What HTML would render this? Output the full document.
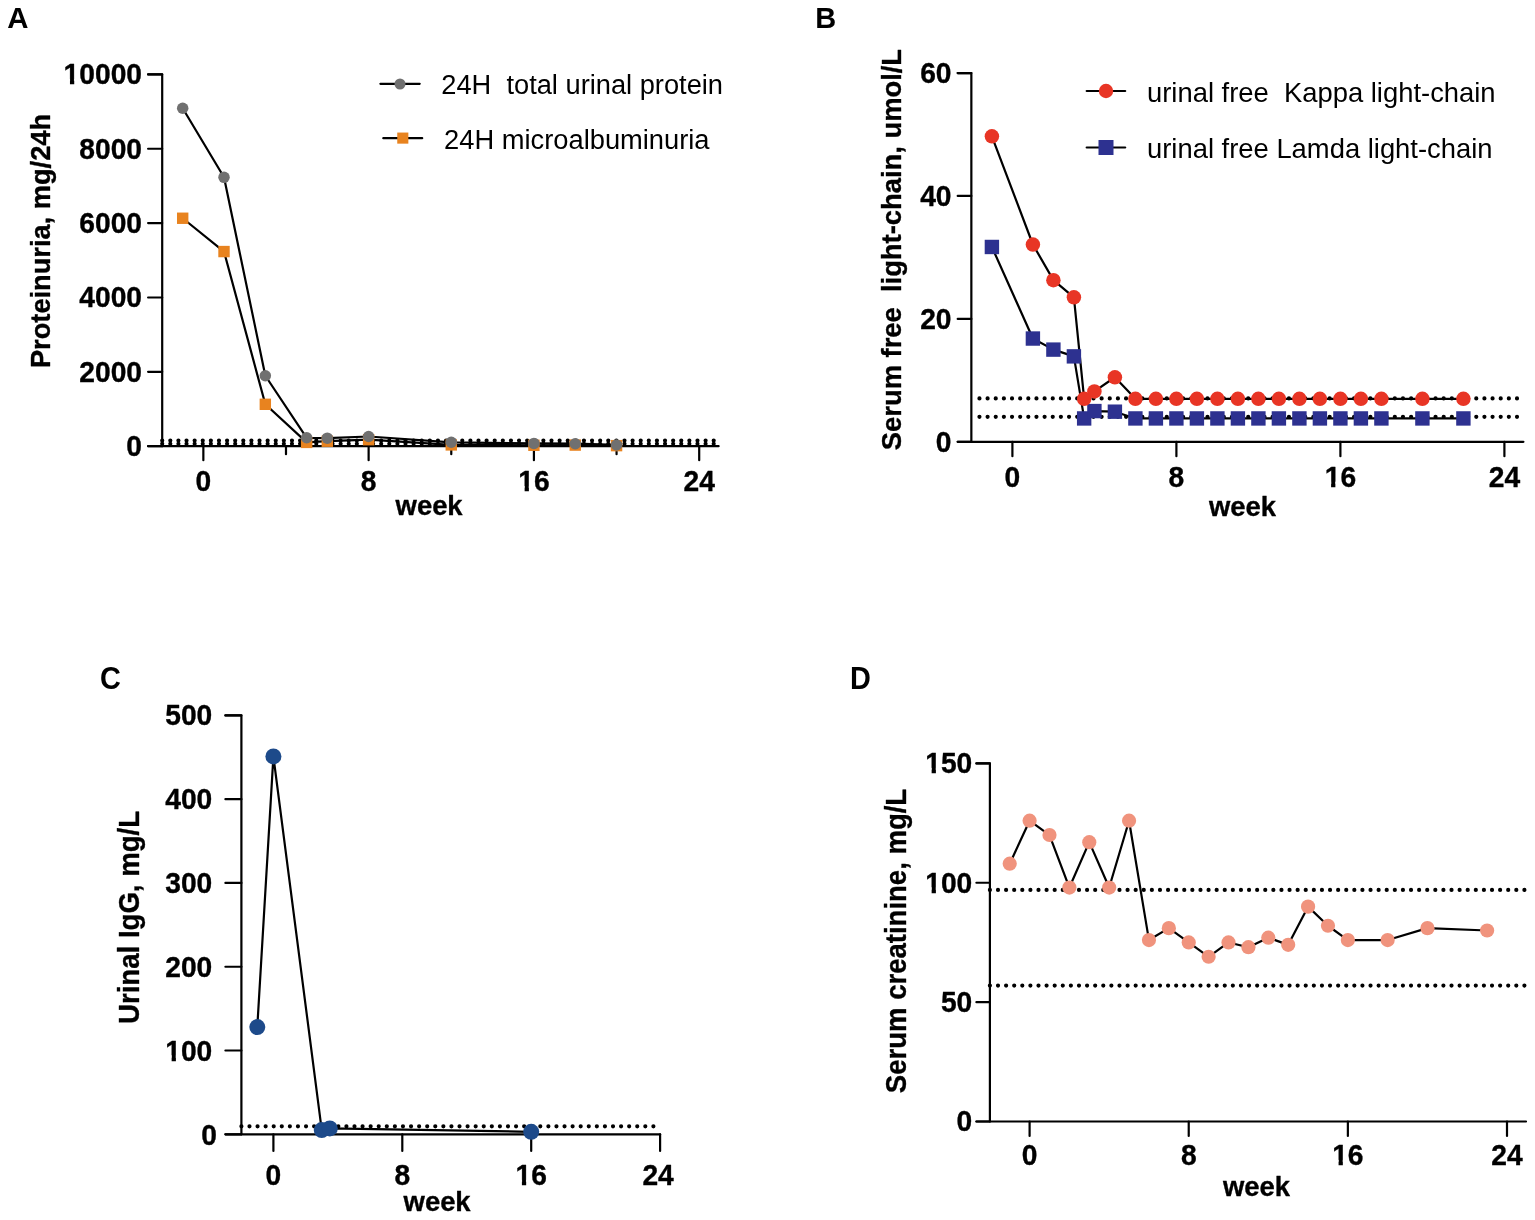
<!DOCTYPE html>
<html><head><meta charset="utf-8"><title>Figure</title>
<style>
html,body{margin:0;padding:0;background:#fff;}
body{width:1535px;height:1220px;overflow:hidden;}
svg{display:block;font-family:"Liberation Sans", Arial, Helvetica, sans-serif;}
text{fill:#000;}
</style></head><body>
<svg width="1535" height="1220" viewBox="0 0 1535 1220">
<rect width="1535" height="1220" fill="#fff"/>
<text transform="translate(7.30,28.30) scale(1,1.01)" font-size="29.4" font-weight="bold" text-anchor="start">A</text>
<path d="M148.10,74.40 L162.20,74.40 L162.20,446.20" fill="none" stroke="#000" stroke-width="2.2" stroke-linecap="round" stroke-linejoin="round"/>
<line x1="148.10" y1="446.20" x2="718.60" y2="446.20" stroke="#000" stroke-width="2.2" stroke-linecap="round"/>
<line x1="148.10" y1="446.20" x2="162.20" y2="446.20" stroke="#000" stroke-width="2.2" stroke-linecap="round"/>
<line x1="148.10" y1="371.84" x2="162.20" y2="371.84" stroke="#000" stroke-width="2.2" stroke-linecap="round"/>
<line x1="148.10" y1="297.48" x2="162.20" y2="297.48" stroke="#000" stroke-width="2.2" stroke-linecap="round"/>
<line x1="148.10" y1="223.12" x2="162.20" y2="223.12" stroke="#000" stroke-width="2.2" stroke-linecap="round"/>
<line x1="148.10" y1="148.76" x2="162.20" y2="148.76" stroke="#000" stroke-width="2.2" stroke-linecap="round"/>
<line x1="148.10" y1="74.40" x2="162.20" y2="74.40" stroke="#000" stroke-width="2.2" stroke-linecap="round"/>
<line x1="203.35" y1="446.20" x2="203.35" y2="460.20" stroke="#000" stroke-width="2.2" stroke-linecap="round"/>
<line x1="368.63" y1="446.20" x2="368.63" y2="460.20" stroke="#000" stroke-width="2.2" stroke-linecap="round"/>
<line x1="533.92" y1="446.20" x2="533.92" y2="460.20" stroke="#000" stroke-width="2.2" stroke-linecap="round"/>
<line x1="699.20" y1="446.20" x2="699.20" y2="460.20" stroke="#000" stroke-width="2.2" stroke-linecap="round"/>
<line x1="285.99" y1="446.20" x2="285.99" y2="454.20" stroke="#000" stroke-width="2.2" stroke-linecap="round"/>
<line x1="451.27" y1="446.20" x2="451.27" y2="454.20" stroke="#000" stroke-width="2.2" stroke-linecap="round"/>
<line x1="616.56" y1="446.20" x2="616.56" y2="454.20" stroke="#000" stroke-width="2.2" stroke-linecap="round"/>
<g transform="translate(142.00,455.60) scale(1,1.05)"><text font-size="28.2" font-weight="bold" text-anchor="end" stroke="#000" stroke-width="0.35" stroke-linejoin="round">0</text></g>
<g transform="translate(142.00,381.84) scale(1,1.05)"><text font-size="28.2" font-weight="bold" text-anchor="end" stroke="#000" stroke-width="0.35" stroke-linejoin="round">2000</text></g>
<g transform="translate(142.00,307.48) scale(1,1.05)"><text font-size="28.2" font-weight="bold" text-anchor="end" stroke="#000" stroke-width="0.35" stroke-linejoin="round">4000</text></g>
<g transform="translate(142.00,233.12) scale(1,1.05)"><text font-size="28.2" font-weight="bold" text-anchor="end" stroke="#000" stroke-width="0.35" stroke-linejoin="round">6000</text></g>
<g transform="translate(142.00,158.76) scale(1,1.05)"><text font-size="28.2" font-weight="bold" text-anchor="end" stroke="#000" stroke-width="0.35" stroke-linejoin="round">8000</text></g>
<g transform="translate(142.00,84.40) scale(1,1.05)"><text font-size="28.2" font-weight="bold" text-anchor="end" stroke="#000" stroke-width="0.35" stroke-linejoin="round">10000</text><rect x="-77.78" y="-5.08" width="5.74" height="7.28" fill="#fff"/><rect x="-67.77" y="-5.08" width="5.37" height="7.28" fill="#fff"/></g>
<g transform="translate(203.35,491.40) scale(1,1.05)"><text font-size="28.2" font-weight="bold" text-anchor="middle" stroke="#000" stroke-width="0.35" stroke-linejoin="round">0</text></g>
<g transform="translate(368.63,491.40) scale(1,1.05)"><text font-size="28.2" font-weight="bold" text-anchor="middle" stroke="#000" stroke-width="0.35" stroke-linejoin="round">8</text></g>
<g transform="translate(533.92,491.40) scale(1,1.05)"><text font-size="28.2" font-weight="bold" text-anchor="middle" stroke="#000" stroke-width="0.35" stroke-linejoin="round">16</text><rect x="-15.04" y="-5.08" width="5.74" height="7.28" fill="#fff"/><rect x="-5.03" y="-5.08" width="5.37" height="7.28" fill="#fff"/></g>
<g transform="translate(699.20,491.40) scale(1,1.05)"><text font-size="28.2" font-weight="bold" text-anchor="middle" stroke="#000" stroke-width="0.35" stroke-linejoin="round">24</text></g>
<text transform="translate(395.60,515.00) scale(1,1.04)" font-size="27.4" font-weight="bold" text-anchor="start" stroke="#000" stroke-width="0.35" stroke-linejoin="round">week</text>
<text transform="translate(49.60,241.00) rotate(-90) scale(1,1.04)" font-size="27.23" font-weight="bold" text-anchor="middle" stroke="#000" stroke-width="0.35" stroke-linejoin="round">Proteinuria, mg/24h</text>
<line x1="162.20" y1="440.60" x2="713.80" y2="440.60" stroke="#000" stroke-width="4.2" stroke-linecap="round" stroke-dasharray="0 8.1103"/>
<line x1="162.20" y1="443.80" x2="713.80" y2="443.80" stroke="#000" stroke-width="4.2" stroke-linecap="round" stroke-dasharray="0 8.1103"/>
<polyline points="182.69,218.25 224.01,251.56 265.33,404.30 306.65,442.41 327.31,441.22 368.63,439.69 451.27,444.90 533.92,445.27 575.24,445.08 616.56,445.64" fill="none" stroke="#000" stroke-width="2.2" stroke-linejoin="round"/>
<polyline points="182.69,108.23 224.01,177.31 265.33,375.74 306.65,437.80 327.31,438.13 368.63,436.50 451.27,442.30 533.92,443.41 575.24,443.71 616.56,444.97" fill="none" stroke="#000" stroke-width="2.2" stroke-linejoin="round"/>
<rect x="176.99" y="212.55" width="11.40" height="11.40" fill="#e8831f"/>
<rect x="218.31" y="245.86" width="11.40" height="11.40" fill="#e8831f"/>
<rect x="259.63" y="398.60" width="11.40" height="11.40" fill="#e8831f"/>
<rect x="300.95" y="436.71" width="11.40" height="11.40" fill="#e8831f"/>
<rect x="321.61" y="435.52" width="11.40" height="11.40" fill="#e8831f"/>
<rect x="362.93" y="433.99" width="11.40" height="11.40" fill="#e8831f"/>
<rect x="445.57" y="439.20" width="11.40" height="11.40" fill="#e8831f"/>
<rect x="528.22" y="439.57" width="11.40" height="11.40" fill="#e8831f"/>
<rect x="569.54" y="439.38" width="11.40" height="11.40" fill="#e8831f"/>
<rect x="610.86" y="439.94" width="11.40" height="11.40" fill="#e8831f"/>
<circle cx="182.69" cy="108.23" r="5.75" fill="#707070"/>
<circle cx="224.01" cy="177.31" r="5.75" fill="#707070"/>
<circle cx="265.33" cy="375.74" r="5.75" fill="#707070"/>
<circle cx="306.65" cy="437.80" r="5.75" fill="#707070"/>
<circle cx="327.31" cy="438.13" r="5.75" fill="#707070"/>
<circle cx="368.63" cy="436.50" r="5.75" fill="#707070"/>
<circle cx="451.27" cy="442.30" r="5.75" fill="#707070"/>
<circle cx="533.92" cy="443.41" r="5.75" fill="#707070"/>
<circle cx="575.24" cy="443.71" r="5.75" fill="#707070"/>
<circle cx="616.56" cy="444.97" r="5.75" fill="#707070"/>
<line x1="380.40" y1="83.80" x2="419.70" y2="83.80" stroke="#000" stroke-width="2.2" stroke-linecap="round"/>
<circle cx="400.00" cy="84.00" r="5.50" fill="#707070"/>
<text transform="translate(441.30,94.40) scale(1,1.04)" font-size="27.25" font-weight="normal" text-anchor="start" xml:space="preserve">24H  total urinal protein</text>
<line x1="383.30" y1="138.20" x2="422.20" y2="138.20" stroke="#000" stroke-width="2.2" stroke-linecap="round"/>
<rect x="397.25" y="132.55" width="11.10" height="11.10" fill="#e8831f"/>
<text transform="translate(444.10,148.60) scale(1,1.04)" font-size="27.3" font-weight="normal" text-anchor="start">24H microalbuminuria</text>
<text transform="translate(815.20,28.40) scale(1,1.02)" font-size="29.0" font-weight="bold" text-anchor="start">B</text>
<path d="M957.70,73.03 L971.35,73.03 L971.35,441.80" fill="none" stroke="#000" stroke-width="2.2" stroke-linecap="round" stroke-linejoin="round"/>
<line x1="957.70" y1="441.80" x2="1523.40" y2="441.80" stroke="#000" stroke-width="2.2" stroke-linecap="round"/>
<line x1="957.70" y1="441.80" x2="971.35" y2="441.80" stroke="#000" stroke-width="2.2" stroke-linecap="round"/>
<line x1="957.70" y1="318.88" x2="971.35" y2="318.88" stroke="#000" stroke-width="2.2" stroke-linecap="round"/>
<line x1="957.70" y1="195.95" x2="971.35" y2="195.95" stroke="#000" stroke-width="2.2" stroke-linecap="round"/>
<line x1="957.70" y1="73.03" x2="971.35" y2="73.03" stroke="#000" stroke-width="2.2" stroke-linecap="round"/>
<line x1="1012.40" y1="441.80" x2="1012.40" y2="456.20" stroke="#000" stroke-width="2.2" stroke-linecap="round"/>
<line x1="1176.40" y1="441.80" x2="1176.40" y2="456.20" stroke="#000" stroke-width="2.2" stroke-linecap="round"/>
<line x1="1340.40" y1="441.80" x2="1340.40" y2="456.20" stroke="#000" stroke-width="2.2" stroke-linecap="round"/>
<line x1="1504.40" y1="441.80" x2="1504.40" y2="456.20" stroke="#000" stroke-width="2.2" stroke-linecap="round"/>
<g transform="translate(951.50,451.80) scale(1,1.05)"><text font-size="28.2" font-weight="bold" text-anchor="end" stroke="#000" stroke-width="0.35" stroke-linejoin="round">0</text></g>
<g transform="translate(951.50,328.88) scale(1,1.05)"><text font-size="28.2" font-weight="bold" text-anchor="end" stroke="#000" stroke-width="0.35" stroke-linejoin="round">20</text></g>
<g transform="translate(951.50,205.95) scale(1,1.05)"><text font-size="28.2" font-weight="bold" text-anchor="end" stroke="#000" stroke-width="0.35" stroke-linejoin="round">40</text></g>
<g transform="translate(951.50,83.03) scale(1,1.05)"><text font-size="28.2" font-weight="bold" text-anchor="end" stroke="#000" stroke-width="0.35" stroke-linejoin="round">60</text></g>
<g transform="translate(1012.40,487.00) scale(1,1.05)"><text font-size="28.2" font-weight="bold" text-anchor="middle" stroke="#000" stroke-width="0.35" stroke-linejoin="round">0</text></g>
<g transform="translate(1176.40,487.00) scale(1,1.05)"><text font-size="28.2" font-weight="bold" text-anchor="middle" stroke="#000" stroke-width="0.35" stroke-linejoin="round">8</text></g>
<g transform="translate(1340.40,487.00) scale(1,1.05)"><text font-size="28.2" font-weight="bold" text-anchor="middle" stroke="#000" stroke-width="0.35" stroke-linejoin="round">16</text><rect x="-15.04" y="-5.08" width="5.74" height="7.28" fill="#fff"/><rect x="-5.03" y="-5.08" width="5.37" height="7.28" fill="#fff"/></g>
<g transform="translate(1504.40,487.00) scale(1,1.05)"><text font-size="28.2" font-weight="bold" text-anchor="middle" stroke="#000" stroke-width="0.35" stroke-linejoin="round">24</text></g>
<text transform="translate(1209.00,515.50) scale(1,1.04)" font-size="27.4" font-weight="bold" text-anchor="start" stroke="#000" stroke-width="0.35" stroke-linejoin="round">week</text>
<text transform="translate(901.00,249.55) rotate(-90) scale(1,1.04)" font-size="27.37" font-weight="bold" text-anchor="middle" xml:space="preserve" stroke="#000" stroke-width="0.35" stroke-linejoin="round">Serum free  light-chain, umol/L</text>
<line x1="979.45" y1="398.40" x2="1517.10" y2="398.40" stroke="#000" stroke-width="4.2" stroke-linecap="round" stroke-dasharray="0 8.1447"/>
<line x1="979.45" y1="416.80" x2="1517.10" y2="416.80" stroke="#000" stroke-width="4.2" stroke-linecap="round" stroke-dasharray="0 8.1447"/>
<polyline points="991.90,246.97 1032.90,338.54 1053.40,349.61 1073.90,356.37 1084.15,418.44 1094.40,411.07 1114.90,411.68 1135.40,418.44 1155.90,418.44 1176.40,418.44 1196.90,418.44 1217.40,418.44 1237.90,418.44 1258.40,418.44 1278.90,418.44 1299.40,418.44 1319.90,418.44 1340.40,418.44 1360.90,418.44 1381.40,418.44 1422.40,418.44 1463.40,418.44" fill="none" stroke="#000" stroke-width="2.2" stroke-linejoin="round"/>
<polyline points="991.90,136.34 1032.90,244.51 1053.40,280.16 1073.90,297.37 1084.15,398.78 1094.40,391.40 1114.90,377.27 1135.40,398.78 1155.90,398.78 1176.40,398.78 1196.90,398.78 1217.40,398.78 1237.90,398.78 1258.40,398.78 1278.90,398.78 1299.40,398.78 1319.90,398.78 1340.40,398.78 1360.90,398.78 1381.40,398.78 1422.40,398.78 1463.40,398.78" fill="none" stroke="#000" stroke-width="2.2" stroke-linejoin="round"/>
<rect x="984.70" y="239.77" width="14.40" height="14.40" fill="#2d3190"/>
<rect x="1025.70" y="331.34" width="14.40" height="14.40" fill="#2d3190"/>
<rect x="1046.20" y="342.41" width="14.40" height="14.40" fill="#2d3190"/>
<rect x="1066.70" y="349.17" width="14.40" height="14.40" fill="#2d3190"/>
<rect x="1076.95" y="411.24" width="14.40" height="14.40" fill="#2d3190"/>
<rect x="1087.20" y="403.87" width="14.40" height="14.40" fill="#2d3190"/>
<rect x="1107.70" y="404.48" width="14.40" height="14.40" fill="#2d3190"/>
<rect x="1128.20" y="411.24" width="14.40" height="14.40" fill="#2d3190"/>
<rect x="1148.70" y="411.24" width="14.40" height="14.40" fill="#2d3190"/>
<rect x="1169.20" y="411.24" width="14.40" height="14.40" fill="#2d3190"/>
<rect x="1189.70" y="411.24" width="14.40" height="14.40" fill="#2d3190"/>
<rect x="1210.20" y="411.24" width="14.40" height="14.40" fill="#2d3190"/>
<rect x="1230.70" y="411.24" width="14.40" height="14.40" fill="#2d3190"/>
<rect x="1251.20" y="411.24" width="14.40" height="14.40" fill="#2d3190"/>
<rect x="1271.70" y="411.24" width="14.40" height="14.40" fill="#2d3190"/>
<rect x="1292.20" y="411.24" width="14.40" height="14.40" fill="#2d3190"/>
<rect x="1312.70" y="411.24" width="14.40" height="14.40" fill="#2d3190"/>
<rect x="1333.20" y="411.24" width="14.40" height="14.40" fill="#2d3190"/>
<rect x="1353.70" y="411.24" width="14.40" height="14.40" fill="#2d3190"/>
<rect x="1374.20" y="411.24" width="14.40" height="14.40" fill="#2d3190"/>
<rect x="1415.20" y="411.24" width="14.40" height="14.40" fill="#2d3190"/>
<rect x="1456.20" y="411.24" width="14.40" height="14.40" fill="#2d3190"/>
<circle cx="991.90" cy="136.34" r="7.25" fill="#e83525"/>
<circle cx="1032.90" cy="244.51" r="7.25" fill="#e83525"/>
<circle cx="1053.40" cy="280.16" r="7.25" fill="#e83525"/>
<circle cx="1073.90" cy="297.37" r="7.25" fill="#e83525"/>
<circle cx="1084.15" cy="398.78" r="7.25" fill="#e83525"/>
<circle cx="1094.40" cy="391.40" r="7.25" fill="#e83525"/>
<circle cx="1114.90" cy="377.27" r="7.25" fill="#e83525"/>
<circle cx="1135.40" cy="398.78" r="7.25" fill="#e83525"/>
<circle cx="1155.90" cy="398.78" r="7.25" fill="#e83525"/>
<circle cx="1176.40" cy="398.78" r="7.25" fill="#e83525"/>
<circle cx="1196.90" cy="398.78" r="7.25" fill="#e83525"/>
<circle cx="1217.40" cy="398.78" r="7.25" fill="#e83525"/>
<circle cx="1237.90" cy="398.78" r="7.25" fill="#e83525"/>
<circle cx="1258.40" cy="398.78" r="7.25" fill="#e83525"/>
<circle cx="1278.90" cy="398.78" r="7.25" fill="#e83525"/>
<circle cx="1299.40" cy="398.78" r="7.25" fill="#e83525"/>
<circle cx="1319.90" cy="398.78" r="7.25" fill="#e83525"/>
<circle cx="1340.40" cy="398.78" r="7.25" fill="#e83525"/>
<circle cx="1360.90" cy="398.78" r="7.25" fill="#e83525"/>
<circle cx="1381.40" cy="398.78" r="7.25" fill="#e83525"/>
<circle cx="1422.40" cy="398.78" r="7.25" fill="#e83525"/>
<circle cx="1463.40" cy="398.78" r="7.25" fill="#e83525"/>
<line x1="1086.70" y1="91.00" x2="1125.20" y2="91.00" stroke="#000" stroke-width="2.2" stroke-linecap="round"/>
<circle cx="1106.00" cy="91.00" r="7.20" fill="#e83525"/>
<text transform="translate(1147.00,102.00) scale(1,1.04)" font-size="27.4" font-weight="normal" text-anchor="start" xml:space="preserve">urinal free  Kappa light-chain</text>
<line x1="1086.70" y1="147.50" x2="1125.20" y2="147.50" stroke="#000" stroke-width="2.2" stroke-linecap="round"/>
<rect x="1098.50" y="140.00" width="15.00" height="15.00" fill="#2d3190"/>
<text transform="translate(1147.00,158.00) scale(1,1.04)" font-size="27.4" font-weight="normal" text-anchor="start">urinal free Lamda light-chain</text>
<text transform="translate(99.90,688.80) scale(1,1.06)" font-size="28.9" font-weight="bold" text-anchor="start">C</text>
<path d="M225.40,715.40 L241.40,715.40 L241.40,1134.30" fill="none" stroke="#000" stroke-width="2.2" stroke-linecap="round" stroke-linejoin="round"/>
<line x1="225.40" y1="1134.30" x2="660.10" y2="1134.30" stroke="#000" stroke-width="2.2" stroke-linecap="round"/>
<line x1="225.40" y1="1134.30" x2="241.40" y2="1134.30" stroke="#000" stroke-width="2.2" stroke-linecap="round"/>
<line x1="225.40" y1="1050.52" x2="241.40" y2="1050.52" stroke="#000" stroke-width="2.2" stroke-linecap="round"/>
<line x1="225.40" y1="966.74" x2="241.40" y2="966.74" stroke="#000" stroke-width="2.2" stroke-linecap="round"/>
<line x1="225.40" y1="882.96" x2="241.40" y2="882.96" stroke="#000" stroke-width="2.2" stroke-linecap="round"/>
<line x1="225.40" y1="799.18" x2="241.40" y2="799.18" stroke="#000" stroke-width="2.2" stroke-linecap="round"/>
<line x1="225.40" y1="715.40" x2="241.40" y2="715.40" stroke="#000" stroke-width="2.2" stroke-linecap="round"/>
<line x1="273.40" y1="1134.30" x2="273.40" y2="1151.00" stroke="#000" stroke-width="2.2" stroke-linecap="round"/>
<line x1="402.30" y1="1134.30" x2="402.30" y2="1151.00" stroke="#000" stroke-width="2.2" stroke-linecap="round"/>
<line x1="531.20" y1="1134.30" x2="531.20" y2="1151.00" stroke="#000" stroke-width="2.2" stroke-linecap="round"/>
<line x1="660.10" y1="1134.30" x2="660.10" y2="1151.00" stroke="#000" stroke-width="2.2" stroke-linecap="round"/>
<g transform="translate(216.90,1145.30) scale(1,1.05)"><text font-size="28.2" font-weight="bold" text-anchor="end" stroke="#000" stroke-width="0.35" stroke-linejoin="round">0</text></g>
<g transform="translate(212.30,1060.52) scale(1,1.05)"><text font-size="28.2" font-weight="bold" text-anchor="end" stroke="#000" stroke-width="0.35" stroke-linejoin="round">100</text><rect x="-46.41" y="-5.08" width="5.74" height="7.28" fill="#fff"/><rect x="-36.40" y="-5.08" width="5.37" height="7.28" fill="#fff"/></g>
<g transform="translate(212.30,976.74) scale(1,1.05)"><text font-size="28.2" font-weight="bold" text-anchor="end" stroke="#000" stroke-width="0.35" stroke-linejoin="round">200</text></g>
<g transform="translate(212.30,892.96) scale(1,1.05)"><text font-size="28.2" font-weight="bold" text-anchor="end" stroke="#000" stroke-width="0.35" stroke-linejoin="round">300</text></g>
<g transform="translate(212.30,809.18) scale(1,1.05)"><text font-size="28.2" font-weight="bold" text-anchor="end" stroke="#000" stroke-width="0.35" stroke-linejoin="round">400</text></g>
<g transform="translate(212.30,725.40) scale(1,1.05)"><text font-size="28.2" font-weight="bold" text-anchor="end" stroke="#000" stroke-width="0.35" stroke-linejoin="round">500</text></g>
<g transform="translate(273.40,1185.20) scale(1,1.05)"><text font-size="28.2" font-weight="bold" text-anchor="middle" stroke="#000" stroke-width="0.35" stroke-linejoin="round">0</text></g>
<g transform="translate(402.30,1185.20) scale(1,1.05)"><text font-size="28.2" font-weight="bold" text-anchor="middle" stroke="#000" stroke-width="0.35" stroke-linejoin="round">8</text></g>
<g transform="translate(531.20,1185.20) scale(1,1.05)"><text font-size="28.2" font-weight="bold" text-anchor="middle" stroke="#000" stroke-width="0.35" stroke-linejoin="round">16</text><rect x="-15.04" y="-5.08" width="5.74" height="7.28" fill="#fff"/><rect x="-5.03" y="-5.08" width="5.37" height="7.28" fill="#fff"/></g>
<g transform="translate(658.10,1185.20) scale(1,1.05)"><text font-size="28.2" font-weight="bold" text-anchor="middle" stroke="#000" stroke-width="0.35" stroke-linejoin="round">24</text></g>
<text transform="translate(403.60,1210.60) scale(1,1.04)" font-size="27.4" font-weight="bold" text-anchor="start" stroke="#000" stroke-width="0.35" stroke-linejoin="round">week</text>
<text transform="translate(138.80,917.45) rotate(-90) scale(1,1.04)" font-size="27.6" font-weight="bold" text-anchor="middle" stroke="#000" stroke-width="0.35" stroke-linejoin="round">Urinal IgG, mg/L</text>
<line x1="241.40" y1="1126.30" x2="653.50" y2="1126.30" stroke="#000" stroke-width="4.2" stroke-linecap="round" stroke-dasharray="0 8.0784"/>
<polyline points="257.29,1027.06 273.40,756.45 321.74,1130.11 329.79,1128.44 531.20,1131.79" fill="none" stroke="#000" stroke-width="2.2" stroke-linejoin="round"/>
<circle cx="257.29" cy="1027.06" r="8.00" fill="#1d4a8a"/>
<circle cx="273.40" cy="756.45" r="8.00" fill="#1d4a8a"/>
<circle cx="321.74" cy="1130.11" r="8.00" fill="#1d4a8a"/>
<circle cx="329.79" cy="1128.44" r="8.00" fill="#1d4a8a"/>
<circle cx="531.20" cy="1131.79" r="8.00" fill="#1d4a8a"/>
<text transform="translate(849.90,688.80) scale(1,1.06)" font-size="28.9" font-weight="bold" text-anchor="start">D</text>
<path d="M976.40,763.40 L989.90,763.40 L989.90,1121.50" fill="none" stroke="#000" stroke-width="2.2" stroke-linecap="round" stroke-linejoin="round"/>
<line x1="976.40" y1="1121.50" x2="1526.00" y2="1121.50" stroke="#000" stroke-width="2.2" stroke-linecap="round"/>
<line x1="976.40" y1="1121.50" x2="989.90" y2="1121.50" stroke="#000" stroke-width="2.2" stroke-linecap="round"/>
<line x1="976.40" y1="1002.13" x2="989.90" y2="1002.13" stroke="#000" stroke-width="2.2" stroke-linecap="round"/>
<line x1="976.40" y1="882.77" x2="989.90" y2="882.77" stroke="#000" stroke-width="2.2" stroke-linecap="round"/>
<line x1="976.40" y1="763.40" x2="989.90" y2="763.40" stroke="#000" stroke-width="2.2" stroke-linecap="round"/>
<line x1="1029.60" y1="1121.50" x2="1029.60" y2="1136.00" stroke="#000" stroke-width="2.2" stroke-linecap="round"/>
<line x1="1188.73" y1="1121.50" x2="1188.73" y2="1136.00" stroke="#000" stroke-width="2.2" stroke-linecap="round"/>
<line x1="1347.87" y1="1121.50" x2="1347.87" y2="1136.00" stroke="#000" stroke-width="2.2" stroke-linecap="round"/>
<line x1="1507.00" y1="1121.50" x2="1507.00" y2="1136.00" stroke="#000" stroke-width="2.2" stroke-linecap="round"/>
<g transform="translate(972.30,1130.70) scale(1,1.05)"><text font-size="28.2" font-weight="bold" text-anchor="end" stroke="#000" stroke-width="0.35" stroke-linejoin="round">0</text></g>
<g transform="translate(972.30,1011.93) scale(1,1.05)"><text font-size="28.2" font-weight="bold" text-anchor="end" stroke="#000" stroke-width="0.35" stroke-linejoin="round">50</text></g>
<g transform="translate(972.30,892.57) scale(1,1.05)"><text font-size="28.2" font-weight="bold" text-anchor="end" stroke="#000" stroke-width="0.35" stroke-linejoin="round">100</text><rect x="-46.41" y="-5.08" width="5.74" height="7.28" fill="#fff"/><rect x="-36.40" y="-5.08" width="5.37" height="7.28" fill="#fff"/></g>
<g transform="translate(972.30,773.20) scale(1,1.05)"><text font-size="28.2" font-weight="bold" text-anchor="end" stroke="#000" stroke-width="0.35" stroke-linejoin="round">150</text><rect x="-46.41" y="-5.08" width="5.74" height="7.28" fill="#fff"/><rect x="-36.40" y="-5.08" width="5.37" height="7.28" fill="#fff"/></g>
<g transform="translate(1029.60,1165.20) scale(1,1.05)"><text font-size="28.2" font-weight="bold" text-anchor="middle" stroke="#000" stroke-width="0.35" stroke-linejoin="round">0</text></g>
<g transform="translate(1188.73,1165.20) scale(1,1.05)"><text font-size="28.2" font-weight="bold" text-anchor="middle" stroke="#000" stroke-width="0.35" stroke-linejoin="round">8</text></g>
<g transform="translate(1347.87,1165.20) scale(1,1.05)"><text font-size="28.2" font-weight="bold" text-anchor="middle" stroke="#000" stroke-width="0.35" stroke-linejoin="round">16</text><rect x="-15.04" y="-5.08" width="5.74" height="7.28" fill="#fff"/><rect x="-5.03" y="-5.08" width="5.37" height="7.28" fill="#fff"/></g>
<g transform="translate(1507.00,1165.20) scale(1,1.05)"><text font-size="28.2" font-weight="bold" text-anchor="middle" stroke="#000" stroke-width="0.35" stroke-linejoin="round">24</text></g>
<text transform="translate(1223.00,1196.00) scale(1,1.04)" font-size="27.4" font-weight="bold" text-anchor="start" stroke="#000" stroke-width="0.35" stroke-linejoin="round">week</text>
<text transform="translate(905.50,941.00) rotate(-90) scale(1,1.04)" font-size="27.53" font-weight="bold" text-anchor="middle" stroke="#000" stroke-width="0.35" stroke-linejoin="round">Serum creatinine, mg/L</text>
<line x1="989.90" y1="889.90" x2="1524.50" y2="889.90" stroke="#000" stroke-width="4.2" stroke-linecap="round" stroke-dasharray="0 8.0985"/>
<line x1="989.90" y1="985.60" x2="1524.50" y2="985.60" stroke="#000" stroke-width="4.2" stroke-linecap="round" stroke-dasharray="0 8.0985"/>
<polyline points="1009.71,863.67 1029.60,820.70 1049.49,835.02 1069.38,887.54 1089.27,842.18 1109.17,887.54 1129.06,820.70 1148.95,940.06 1168.84,928.13 1188.73,942.45 1208.62,956.77 1228.52,942.45 1248.41,947.22 1268.30,937.68 1288.19,944.84 1308.08,906.64 1327.97,925.74 1347.87,940.06 1387.65,940.06 1427.43,928.13 1487.11,930.51" fill="none" stroke="#000" stroke-width="2.2" stroke-linejoin="round"/>
<circle cx="1009.71" cy="863.67" r="7.10" fill="#f0937d"/>
<circle cx="1029.60" cy="820.70" r="7.10" fill="#f0937d"/>
<circle cx="1049.49" cy="835.02" r="7.10" fill="#f0937d"/>
<circle cx="1069.38" cy="887.54" r="7.10" fill="#f0937d"/>
<circle cx="1089.27" cy="842.18" r="7.10" fill="#f0937d"/>
<circle cx="1109.17" cy="887.54" r="7.10" fill="#f0937d"/>
<circle cx="1129.06" cy="820.70" r="7.10" fill="#f0937d"/>
<circle cx="1148.95" cy="940.06" r="7.10" fill="#f0937d"/>
<circle cx="1168.84" cy="928.13" r="7.10" fill="#f0937d"/>
<circle cx="1188.73" cy="942.45" r="7.10" fill="#f0937d"/>
<circle cx="1208.62" cy="956.77" r="7.10" fill="#f0937d"/>
<circle cx="1228.52" cy="942.45" r="7.10" fill="#f0937d"/>
<circle cx="1248.41" cy="947.22" r="7.10" fill="#f0937d"/>
<circle cx="1268.30" cy="937.68" r="7.10" fill="#f0937d"/>
<circle cx="1288.19" cy="944.84" r="7.10" fill="#f0937d"/>
<circle cx="1308.08" cy="906.64" r="7.10" fill="#f0937d"/>
<circle cx="1327.97" cy="925.74" r="7.10" fill="#f0937d"/>
<circle cx="1347.87" cy="940.06" r="7.10" fill="#f0937d"/>
<circle cx="1387.65" cy="940.06" r="7.10" fill="#f0937d"/>
<circle cx="1427.43" cy="928.13" r="7.10" fill="#f0937d"/>
<circle cx="1487.11" cy="930.51" r="7.10" fill="#f0937d"/>
</svg>
</body></html>
